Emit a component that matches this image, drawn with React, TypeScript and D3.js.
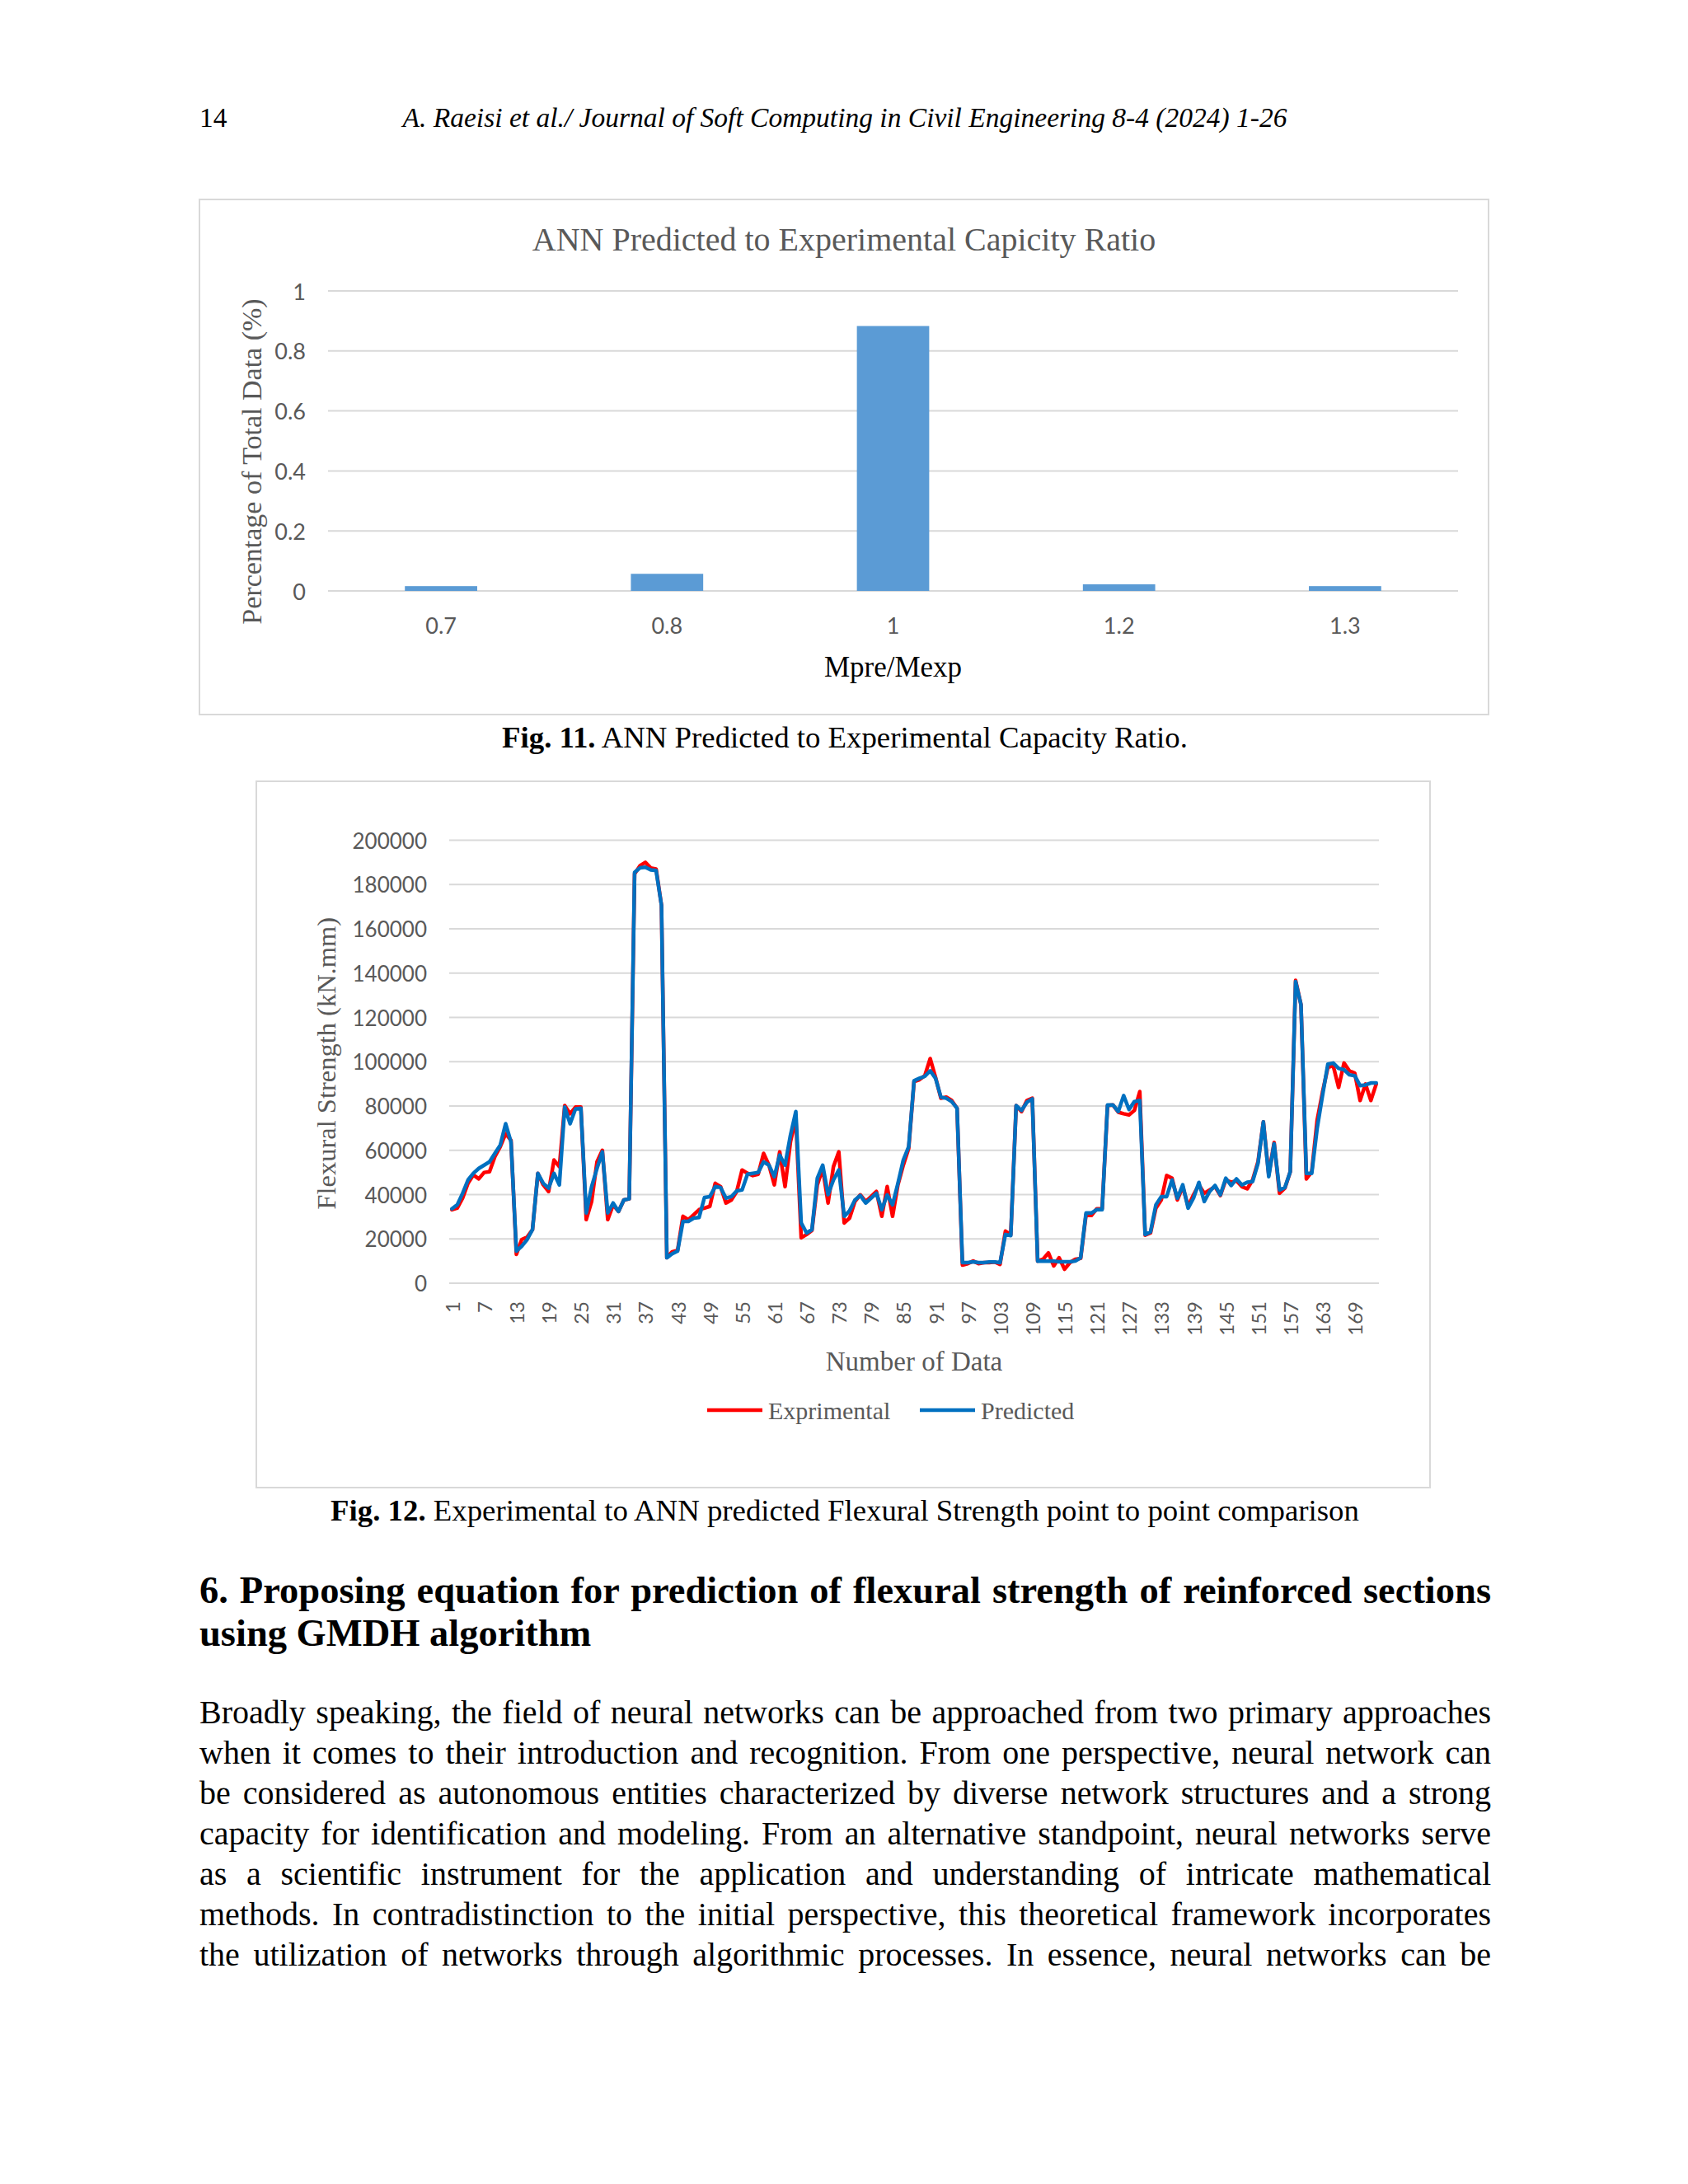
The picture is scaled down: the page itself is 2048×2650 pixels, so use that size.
import * as d3 from 'd3';
import { useLayoutEffect, useRef, useState } from 'react';

// Fig. 11: share of data per Mpre/Mexp ratio
const RATIO_LABELS = ['0.7', '0.8', '1', '1.2', '1.3'];
const RATIO_SHARE = [0.016, 0.057, 0.883, 0.022, 0.016];
const SHARE_TICKS = [0, 0.2, 0.4, 0.6, 0.8, 1];

// Fig. 12: flexural strength per data point (kN.mm)
const EXPERIMENTAL = [
  33200, 33900, 38400, 45100, 48900, 47100, 50000, 50300, 57100, 61600,
  67500, 64500, 13000, 19700, 20800, 24200, 49600, 44400, 41400, 55600,
  52600, 80200, 76500, 79500, 79500, 28700, 36900, 54800, 60000, 28700,
  35400, 32400, 37600, 38100, 184800, 188500, 190000, 187500, 187000, 170600,
  11500, 14200, 14800, 30200, 28700, 30900, 33200, 33900, 34700, 45100,
  43600, 36200, 37600, 41400, 51100, 49600, 48600, 49200, 58600, 53300,
  44400, 59300, 43600, 63800, 74300, 20500, 22000, 23800, 44400, 51800,
  36200, 52600, 59300, 27200, 29400, 36900, 39900, 36900, 39100, 41400,
  30200, 43600, 30200, 44400, 53300, 60800, 91000, 91900, 93700, 101400,
  92900, 83500, 84000, 82500, 79000, 8200, 8800, 10000, 8800, 9300,
  9300, 9600, 8500, 23500, 22000, 80200, 77500, 82500, 83500, 10000,
  10800, 13700, 7800, 11500, 6300, 9300, 10800, 11200, 30900, 30600,
  33600, 33600, 80200, 80500, 77200, 76500, 76000, 78000, 86500, 21700,
  22700, 33900, 37600, 48600, 47400, 37600, 43600, 34700, 39900, 44400,
  40600, 42100, 43600, 39600, 46600, 45600, 46200, 43600, 42600, 46600,
  54800, 72800, 48900, 63500, 40600, 42900, 50300, 136700, 125800, 47100,
  50300, 73500, 86200, 97400, 98200, 88400, 99400, 95900, 94900, 82500,
  89900, 82500, 89900,
];
const PREDICTED = [
  33600, 35400, 40600, 46600, 49600, 51800, 53300, 54800, 58600, 62300,
  72000, 63800, 14500, 16700, 19700, 24200, 49600, 45100, 42900, 49600,
  44400, 79500, 72000, 78700, 79000, 31700, 43600, 51800, 59300, 31700,
  36200, 32400, 37600, 38100, 185500, 187500, 187800, 186600, 186300, 170600,
  11500, 13300, 14500, 27900, 27900, 29400, 29700, 38700, 39100, 43600,
  43200, 38400, 39100, 41700, 42100, 49200, 49600, 50000, 54800, 53300,
  48100, 57800, 53300, 66800, 77500, 27200, 22700, 24200, 47400, 53300,
  40000, 46600, 51100, 30200, 32700, 37600, 39600, 36200, 38400, 40600,
  33200, 39900, 35400, 45100, 55600, 61600, 91400, 92500, 93400, 95900,
  92500, 84000, 83500, 82000, 79000, 9300, 9300, 9700, 9300, 9300,
  9600, 9600, 9300, 22000, 21500, 80200, 78000, 81700, 83200, 10000,
  10000, 10000, 10000, 9700, 9700, 9700, 10000, 11500, 31700, 31700,
  33200, 33200, 80500, 80500, 77500, 84700, 78400, 82000, 82500, 22000,
  23200, 35400, 39100, 39100, 46600, 38400, 44400, 33900, 38400, 45500,
  36900, 41400, 44100, 39900, 47400, 44100, 47100, 44400, 45600, 45900,
  54100, 72800, 48100, 63000, 42100, 43200, 50300, 136200, 125800, 49600,
  49600, 69800, 84700, 98900, 99400, 97000, 96400, 94100, 93700, 89200,
  89500, 90400, 90400,
];
const STRENGTH_TICKS = [0, 20000, 40000, 60000, 80000, 100000, 120000, 140000, 160000, 180000, 200000];
const DATA_TICKS = [1, 7, 13, 19, 25, 31, 37, 43, 49, 55, 61, 67, 73, 79, 85, 91, 97, 103, 109, 115, 121, 127, 133, 139, 145, 151, 157, 163, 169];

const HEADING = [
  '6. Proposing equation for prediction of flexural strength of reinforced sections',
  'using GMDH algorithm',
];
const BODY = [
  'Broadly speaking, the field of neural networks can be approached from two primary approaches',
  'when it comes to their introduction and recognition. From one perspective, neural network can',
  'be considered as autonomous entities characterized by diverse network structures and a strong',
  'capacity for identification and modeling. From an alternative standpoint, neural networks serve',
  'as a scientific instrument for the application and understanding of intricate mathematical',
  'methods. In contradistinction to the initial perspective, this theoretical framework incorporates',
  'the utilization of networks through algorithmic processes. In essence, neural networks can be',
];

const SERIF = '"Liberation Serif", "Times New Roman", serif';
const SANS = 'Lato, "Liberation Sans", sans-serif';
const GREY = '#595959';
const GRID = '#d9d9d9';
const COL_LEFT = 242;
const COL_WIDTH = 1567;
const PAGE_MID = 1025;

// stretch a single line to the column width by widening the word gaps
function JustifiedLine({ text, y, fontSize, fontWeight = 400 }: { text: string; y: number; fontSize: number; fontWeight?: number }) {
  const ref = useRef<SVGTextElement>(null);
  const [spacing, setSpacing] = useState(0);

  useLayoutEffect(() => {
    const el = ref.current;
    if (!el) return;
    el.style.wordSpacing = '0px';
    const natural = el.getComputedTextLength();
    const gaps = text.split(' ').length - 1;
    setSpacing(gaps > 0 ? (COL_WIDTH - natural) / gaps : 0);
  }, [text, fontSize]);

  return (
    <text
      ref={ref} x={COL_LEFT} y={y}
      fontFamily={SERIF} fontSize={fontSize} fontWeight={fontWeight} fill="#000"
      style={{ wordSpacing: `${spacing}px` }}
    >
      {text}
    </text>
  );
}

function RatioChart() {
  const box = { x: 242, y: 242, w: 1564, h: 625 };
  const x = d3.scaleBand<string>()
    .domain(RATIO_LABELS)
    .range([398, 1769])
    .paddingInner(0.68)
    .paddingOuter(0.34);
  const y = d3.scaleLinear().domain([0, 1]).range([717, 353]);
  const [x0, x1] = x.range();

  return (
    <g>
      <rect x={box.x} y={box.y} width={box.w} height={box.h} fill="#fff" stroke={GRID} strokeWidth={2} />
      <text x={box.x + box.w / 2} y={304} textAnchor="middle" fontFamily={SERIF} fontSize={40} fill={GREY}>
        ANN Predicted to Experimental Capicity Ratio
      </text>

      {/* Grid lines and y ticks */}
      {SHARE_TICKS.map(t => (
        <g key={t}>
          <line x1={x0} x2={x1} y1={y(t)} y2={y(t)} stroke={GRID} strokeWidth={2} />
          <text x={371} y={y(t)} textAnchor="end" dominantBaseline="central" fontFamily={SANS} fontSize={27} fill={GREY}>
            {t}
          </text>
        </g>
      ))}

      {/* Bars */}
      {RATIO_LABELS.map((label, i) => (
        <rect
          key={label}
          x={x(label)} y={y(RATIO_SHARE[i])}
          width={x.bandwidth()} height={y(0) - y(RATIO_SHARE[i])}
          fill="#5b9bd5"
        />
      ))}

      {/* X tick labels */}
      {RATIO_LABELS.map(label => (
        <text
          key={label}
          x={(x(label) ?? 0) + x.bandwidth() / 2} y={758}
          textAnchor="middle" dominantBaseline="central"
          fontFamily={SANS} fontSize={27} fill={GREY}
        >
          {label}
        </text>
      ))}

      <text x={(x0 + x1) / 2} y={809} textAnchor="middle" dominantBaseline="central" fontFamily={SERIF} fontSize={35} fill="#000">
        Mpre/Mexp
      </text>
      <text
        transform="translate(305,560) rotate(-90)"
        textAnchor="middle" dominantBaseline="central"
        fontFamily={SERIF} fontSize={34} fill={GREY}
      >
        Percentage of Total Data (%)
      </text>
    </g>
  );
}

function StrengthChart() {
  const box = { x: 311, y: 948, w: 1424, h: 857 };
  const idx = d3.range(1, PREDICTED.length + 1);
  const x = d3.scalePoint<number>().domain(idx).range([545, 1673]).padding(0.5);
  const y = d3.scaleLinear().domain([0, 200000]).range([1557, 1019.5]);
  const [x0, x1] = x.range();

  const line = d3.line<number>()
    .x((_, i) => x(i + 1) ?? 0)
    .y(d => y(d));

  const legendY = 1711;

  return (
    <g>
      <rect x={box.x} y={box.y} width={box.w} height={box.h} fill="#fff" stroke={GRID} strokeWidth={2} />

      {STRENGTH_TICKS.map(t => (
        <g key={t}>
          <line x1={x0} x2={x1} y1={y(t)} y2={y(t)} stroke={GRID} strokeWidth={2} />
          <text x={518} y={y(t)} textAnchor="end" dominantBaseline="central" fontFamily={SANS} fontSize={26} fill={GREY}>
            {t}
          </text>
        </g>
      ))}

      {/* Series */}
      <path d={line(EXPERIMENTAL) ?? ''} fill="none" stroke="#ff0000" strokeWidth={4.5} strokeLinejoin="round" strokeLinecap="round" />
      <path d={line(PREDICTED) ?? ''} fill="none" stroke="#0070c0" strokeWidth={4.5} strokeLinejoin="round" strokeLinecap="round" />

      {/* Category labels, rotated */}
      {DATA_TICKS.map(t => (
        <text
          key={t}
          transform={`translate(${x(t)},1579) rotate(-90)`}
          textAnchor="end" dominantBaseline="central"
          fontFamily={SANS} fontSize={24} fill={GREY}
        >
          {t}
        </text>
      ))}

      <text x={(x0 + x1) / 2} y={1652} textAnchor="middle" dominantBaseline="central" fontFamily={SERIF} fontSize={33} fill={GREY}>
        Number of Data
      </text>
      <text
        transform={`translate(396,${(y(0) + y(200000)) / 2 + 2}) rotate(-90)`}
        textAnchor="middle" dominantBaseline="central"
        fontFamily={SERIF} fontSize={32.5} fill={GREY}
      >
        Flexural Strength (kN.mm)
      </text>

      {/* Legend */}
      <line x1={858} x2={925} y1={legendY} y2={legendY} stroke="#ff0000" strokeWidth={4.5} />
      <text x={932} y={legendY} dominantBaseline="central" fontFamily={SERIF} fontSize={30} fill={GREY}>Exprimental</text>
      <line x1={1116} x2={1183} y1={legendY} y2={legendY} stroke="#0070c0" strokeWidth={4.5} />
      <text x={1190} y={legendY} dominantBaseline="central" fontFamily={SERIF} fontSize={30} fill={GREY}>Predicted</text>
    </g>
  );
}

export default function App() {
  return (
    <svg width={2048} height={2650} style={{ position: 'absolute', left: 0, top: 0, background: '#fff' }}>
      <rect width={2048} height={2650} fill="#fff" />

      {/* Running header */}
      <text x={COL_LEFT} y={154} fontFamily={SERIF} fontSize={33.5} fill="#000">14</text>
      <text x={PAGE_MID} y={154} textAnchor="middle" fontFamily={SERIF} fontSize={33.5} fontStyle="italic" fill="#000">
        A. Raeisi et al./ Journal of Soft Computing in Civil Engineering 8-4 (2024) 1-26
      </text>

      <RatioChart />
      <text x={PAGE_MID} y={907} textAnchor="middle" fontFamily={SERIF} fontSize={36.8} fill="#000">
        <tspan fontWeight={700}>Fig. 11.</tspan> ANN Predicted to Experimental Capacity Ratio.
      </text>

      <StrengthChart />
      <text x={PAGE_MID} y={1845} textAnchor="middle" fontFamily={SERIF} fontSize={36.8} fill="#000">
        <tspan fontWeight={700}>Fig. 12.</tspan> Experimental to ANN predicted Flexural Strength point to point comparison
      </text>

      {/* Section heading */}
      <JustifiedLine text={HEADING[0]} y={1945} fontSize={46.5} fontWeight={700} />
      <text x={COL_LEFT} y={1997} fontFamily={SERIF} fontSize={46.5} fontWeight={700} fill="#000">{HEADING[1]}</text>

      {/* Body paragraph */}
      {BODY.map((line, i) => (
        <JustifiedLine key={i} text={line} y={2091 + i * 49} fontSize={40} />
      ))}
    </svg>
  );
}
